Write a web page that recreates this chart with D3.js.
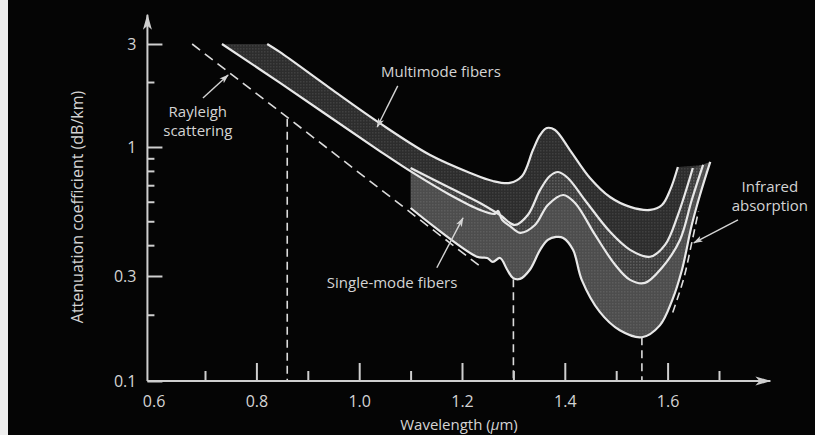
<!DOCTYPE html>
<html>
<head>
<meta charset="utf-8">
<script src="https://cdn.jsdelivr.net/npm/d3@7"></script>
<style>
  html, body { margin: 0; padding: 0; background: #050505; }
  svg { display: block; }
  text { font-family: "Open Sans", "DejaVu Sans", sans-serif; fill: #d4d4d4; }
</style>
</head>
<body>
<svg id="chart" width="815" height="435"></svg>
<script>
// wavelength (um), attenuation (dB/km)
var multiUpper = [[0.821,3.0],[0.846,2.75],[0.943,1.875],[1.040,1.29],[1.138,0.928],[1.216,0.785],
  [1.260,0.728],[1.293,0.715],[1.317,0.763],[1.338,0.972],[1.352,1.137],[1.365,1.224],[1.381,1.199],
  [1.410,0.972],[1.449,0.749],[1.488,0.627],[1.527,0.572],[1.566,0.556],[1.589,0.582],[1.605,0.670],[1.620,0.830]];
var multiLower = [[0.733,3.0],[0.846,1.98],[1.040,0.963],[1.105,0.785],[1.177,0.639],[1.235,0.556],
  [1.264,0.536],[1.270,0.551],[1.278,0.507],[1.293,0.479],[1.313,0.449],[1.342,0.483],[1.367,0.582],
  [1.397,0.639],[1.420,0.593],[1.459,0.440],[1.498,0.333],[1.527,0.288],[1.556,0.279],[1.589,0.324],
  [1.624,0.420],[1.647,0.610],[1.669,0.846]];
var singleUpper = [[1.10,0.822],[1.177,0.682],[1.235,0.593],[1.274,0.530],[1.303,0.483],[1.328,0.530],
  [1.352,0.670],[1.371,0.763],[1.387,0.792],[1.406,0.749],[1.439,0.610],[1.488,0.453],[1.527,0.383],
  [1.566,0.359],[1.595,0.401],[1.620,0.530],[1.649,0.822]];
var singleLower = [[1.10,0.566],[1.229,0.359],[1.249,0.355],[1.260,0.342],[1.274,0.355],[1.288,0.318],
  [1.299,0.294],[1.313,0.291],[1.332,0.318],[1.352,0.383],[1.367,0.420],[1.383,0.432],[1.397,0.428],
  [1.416,0.383],[1.433,0.288],[1.468,0.206],[1.507,0.170],[1.550,0.158],[1.585,0.179],[1.609,0.233],
  [1.628,0.318],[1.647,0.483],[1.663,0.639],[1.683,0.870]];
var rayleigh = [[0.675,3.0],[0.935,1.0],[1.239,0.324]];
var infrared = [[1.610,0.205],[1.631,0.29],[1.646,0.40],[1.660,0.55]];
// vertical markers: wavelength and the attenuation where the dashed drop starts
var dropWave = [0.86, 1.30, 1.55];
var dropTop = [1.35, 0.29, 0.158];

var xMajor = [0.8, 1.0, 1.2, 1.4, 1.6];
var xMinor = [0.7, 0.9, 1.1, 1.3, 1.5, 1.7];
var xLabels = [0.6, 0.8, 1.0, 1.2, 1.4, 1.6];
var yMajor = [0.1, 0.3, 1, 3];
var yMinor = [0.2, 0.4, 0.5, 0.6, 0.7, 0.8, 0.9, 2];

var notes = [
  {text: ["Multimode fibers"], at: [1.159, 2.22], from: [1.075, 1.92], to: [1.035, 1.238]},
  {text: ["Rayleigh", "scattering"], at: [0.686, 1.45], from: [0.696, 1.686], to: [0.745, 2.154]},
  {text: ["Single-mode fibers"], at: [1.064, 0.279], from: [1.151, 0.324], to: [1.202, 0.516]},
  {text: ["Infrared", "absorption"], at: [1.799, 0.689], from: [1.737, 0.506], to: [1.651, 0.409]}
];

var svg = d3.select("#chart");
var axisColor = "#cfcfcf", curveColor = "#e8e8e8";

// the printed log axis is not quite even, so piecewise log
var x = d3.scaleLinear().domain([0.7, 1.7]).range([205, 719]);
var y = d3.scaleLog().domain([0.1, 0.3, 1, 3]).range([381, 276, 147, 44]);
var x0 = x(0.588), y0 = y(0.1);

// white strip at the left edge of the scan
svg.append("rect").attr("x", 0).attr("y", 0).attr("width", 8).attr("height", 435).attr("fill", "#eeeeee");

var defs = svg.append("defs");
defs.append("marker").attr("id", "axisHead").attr("viewBox", "0 -5 16 10")
  .attr("refX", 15).attr("refY", 0).attr("markerWidth", 16).attr("markerHeight", 10)
  .attr("markerUnits", "userSpaceOnUse").attr("orient", "auto")
  .append("path").attr("d", "M0,-4.5L16,0L0,4.5L4,0Z").attr("fill", axisColor);
defs.append("marker").attr("id", "noteHead").attr("viewBox", "0 -5 12 10")
  .attr("refX", 11).attr("refY", 0).attr("markerWidth", 10).attr("markerHeight", 8)
  .attr("markerUnits", "userSpaceOnUse").attr("orient", "auto")
  .append("path").attr("d", "M0,-4L12,0L0,4L3,0Z").attr("fill", "#d4d4d4");
var pat = defs.append("pattern").attr("id", "dots").attr("width", 3).attr("height", 3)
  .attr("patternUnits", "userSpaceOnUse");
pat.append("rect").attr("width", 1.5).attr("height", 1.5).attr("fill", "rgba(255,255,255,0.09)");

var line = d3.line().x(d => x(d[0])).y(d => y(d[1])).curve(d3.curveCatmullRom.alpha(0.5));
function band(top, bottom) {
  var a = line(top), b = line(bottom.slice().reverse());
  return a + "L" + b.slice(1) + "Z";
}

// bands: single-mode underneath, multimode laid over it so the overlap reads mid-grey
svg.append("path").attr("d", band(singleUpper, singleLower)).attr("fill", "#6a6a6a").attr("fill-opacity", 0.72);
svg.append("path").attr("d", band(multiUpper, multiLower)).attr("fill", "#383838").attr("fill-opacity", 0.78);
svg.append("path").attr("d", band(multiUpper, multiLower)).attr("fill", "url(#dots)");
svg.append("path").attr("d", band(singleUpper, singleLower)).attr("fill", "url(#dots)");

// curves
[multiUpper, multiLower, singleUpper, singleLower].forEach(function(s) {
  svg.append("path").attr("d", line(s)).attr("fill", "none")
    .attr("stroke", curveColor).attr("stroke-width", 2.2);
});

// dashed lines
svg.append("path").attr("d", d3.line().x(d => x(d[0])).y(d => y(d[1]))(rayleigh))
  .attr("fill", "none").attr("stroke", "#dcdcdc").attr("stroke-width", 1.6).attr("stroke-dasharray", "10,6");
svg.append("path").attr("d", line(infrared))
  .attr("fill", "none").attr("stroke", "#dcdcdc").attr("stroke-width", 1.6).attr("stroke-dasharray", "8,5");
svg.selectAll(".drop").data(dropWave).enter().append("line")
  .attr("class", "drop")
  .attr("x1", d => x(d)).attr("x2", d => x(d))
  .attr("y1", (d, i) => y(dropTop[i])).attr("y2", y0)
  .attr("stroke", "#dcdcdc").attr("stroke-width", 1.6).attr("stroke-dasharray", "8,5");

// axes
function styleAxis(g) {
  g.select(".domain").remove();
  g.selectAll("line").attr("stroke", axisColor).attr("stroke-width", 2);
  g.selectAll("text").attr("fill", "#d4d4d4").attr("font-size", 16)
    .attr("font-family", "'Open Sans', 'DejaVu Sans', sans-serif");
}
svg.append("g").attr("transform", "translate(0," + y0 + ")")
  .call(d3.axisBottom(x).tickValues(xLabels).tickSize(0).tickPadding(15).tickFormat(d3.format(".1f"))).call(styleAxis);
svg.append("g").attr("transform", "translate(0," + y0 + ")")
  .call(d3.axisBottom(x).tickValues(xMajor).tickSize(-18).tickFormat("")).call(styleAxis);
svg.append("g").attr("transform", "translate(0," + y0 + ")")
  .call(d3.axisBottom(x).tickValues(xMinor).tickSize(-10).tickFormat("")).call(styleAxis);
svg.append("g").attr("transform", "translate(" + x0 + ",0)")
  .call(d3.axisLeft(y).tickValues(yMajor).tickSizeInner(-15).tickSizeOuter(0).tickPadding(11).tickFormat(d3.format("~g"))).call(styleAxis);
svg.append("g").attr("transform", "translate(" + x0 + ",0)")
  .call(d3.axisLeft(y).tickValues(yMinor).tickSizeInner(-7).tickSizeOuter(0).tickFormat("")).call(styleAxis);

svg.append("line").attr("x1", x0).attr("y1", y0).attr("x2", x(1.8)).attr("y2", y0)
  .attr("stroke", axisColor).attr("stroke-width", 2).attr("marker-end", "url(#axisHead)");
svg.append("line").attr("x1", x0).attr("y1", y0).attr("x2", x0).attr("y2", y(4.1))
  .attr("stroke", axisColor).attr("stroke-width", 2).attr("marker-end", "url(#axisHead)");

// axis titles
svg.append("text").attr("x", 459).attr("y", 425).attr("text-anchor", "middle")
  .attr("dy", "0.35em").attr("font-size", 15)
  .text("Wavelength (").append("tspan").attr("font-style", "italic").text("\u03bc")
  .select(function() { return this.parentNode; }).append("tspan").text("m)");
svg.append("text").attr("transform", "translate(77,207) rotate(-90)")
  .attr("text-anchor", "middle").attr("dy", "0.35em").attr("font-size", 16)
  .text("Attenuation coefficient (dB/km)");

// annotations
notes.forEach(function(n) {
  var t = svg.append("text").attr("x", x(n.at[0])).attr("y", y(n.at[1]))
    .attr("text-anchor", "middle").attr("font-size", 15);
  n.text.forEach(function(s, i) {
    t.append("tspan").attr("x", x(n.at[0])).attr("dy", i === 0 ? "0.35em" : "1.25em").text(s);
  });
  svg.append("line")
    .attr("x1", x(n.from[0])).attr("y1", y(n.from[1]))
    .attr("x2", x(n.to[0])).attr("y2", y(n.to[1]))
    .attr("stroke", "#d4d4d4").attr("stroke-width", 1.4).attr("marker-end", "url(#noteHead)");
});
</script>
</body>
</html>
